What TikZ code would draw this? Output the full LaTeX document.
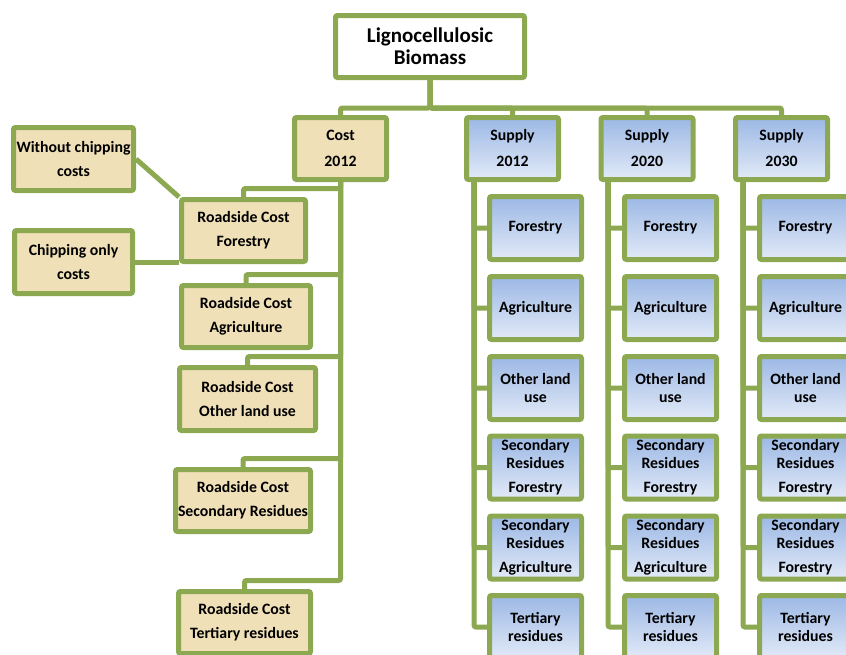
\documentclass[tikz,border=0pt]{standalone}
\usepackage{fontspec}
\setmainfont{Carlito}
\usetikzlibrary{backgrounds}
\definecolor{grn}{RGB}{140,168,80}
\definecolor{papyrus}{RGB}{240,224,184}
\definecolor{btop}{RGB}{156,184,229}
\definecolor{bbot}{RGB}{226,234,247}
\tikzset{
 box/.style={draw=grn, line width=5pt, rounded corners=2pt, inner sep=0pt, align=center, text=black,
   font=\bfseries\fontsize{15.8}{24}\selectfont},
 costbox/.style={box, fill=papyrus},
 supbox/.style={box, top color=btop, bottom color=bbot, font=\bfseries\fontsize{15.8}{17.5}\selectfont,
   minimum width=92pt, minimum height=63pt},
 hdr/.style={font=\bfseries\fontsize{15.8}{24}\selectfont, minimum height=62pt},
 conn/.style={draw=grn, line width=5pt, rounded corners=2pt},
}
\begin{document}
\begin{tikzpicture}[x=1pt,y=-1pt]
\useasboundingbox (0,0) rectangle (846,654);
% root
\node[box, fill=white, minimum width=189pt, minimum height=62pt,
  font=\bfseries\fontsize{21}{22}\selectfont] (root) at (430,46.5) {Lignocellulosic\\Biomass};
% headers
\node[costbox, minimum width=92pt, minimum height=62pt] (cost) at (340.5,148.5) {Cost\\[2pt]2012};
\node[supbox, hdr] (s12) at (512.5,148.5) {Supply\\[2pt]2012};
\node[supbox, hdr] (s20) at (647,148.5) {Supply\\[2pt]2020};
\node[supbox, hdr] (s30) at (781.5,148.5) {Supply\\[2pt]2030};
% cost column
\node[costbox, minimum width=124pt, minimum height=62pt] (rf) at (243.5,230.5) {Roadside Cost\\Forestry};
\node[costbox, minimum width=129pt, minimum height=62pt] (ra) at (246,316.5) {Roadside Cost\\Agriculture};
\node[costbox, minimum width=136pt, minimum height=63pt] (ro) at (247.5,399) {Roadside Cost\\Other land use};
\node[costbox, minimum width=135pt, minimum height=62pt] (rs) at (243,500.5) {Roadside Cost\\Secondary Residues};
\node[costbox, minimum width=132pt, minimum height=62pt] (rt) at (244.5,622.5) {Roadside Cost\\Tertiary residues};
% left boxes
\node[costbox, minimum width=120pt, minimum height=63pt] (wc) at (73.5,159) {Without chipping\\costs};
\node[costbox, minimum width=118pt, minimum height=63pt] (co) at (73.5,262) {Chipping only\\costs};
% supply columns
\foreach \c/\x in {12/535.5, 20/670.5, 30/805.5} {
  \node[supbox] (f\c) at (\x,228) {Forestry};
  \node[supbox] (a\c) at (\x,308) {Agriculture};
  \node[supbox] (o\c) at (\x,388) {Other land\\use};
  \node[supbox] (sf\c) at (\x,467.5) {Secondary\\Residues\\[7pt]Forestry};
  \node[supbox] (t\c) at (\x,627) {Tertiary\\residues};
}
\node[supbox] (sa12) at (535.5,547.5) {Secondary\\Residues\\[7pt]Agriculture};
\node[supbox] (sa20) at (670.5,547.5) {Secondary\\Residues\\[7pt]Agriculture};
\node[supbox] (sa30) at (805.5,547.5) {Secondary\\Residues\\[7pt]Forestry};
% connectors
\begin{pgfonlayer}{background}
\coordinate (bar) at (0,108);
\foreach \n in {cost,s12,s20,s30}
  \draw[conn] (\n.north) -- (\n.north |- bar) -| (root.south);
\foreach \n in {rf,ra,ro,rs,rt}
  \draw[conn] (\n.north) -- ++(0,-8.5) -| (cost.south);
\coordinate (v12) at (474,180);
\coordinate (v20) at (608,180);
\coordinate (v30) at (743,180);
\foreach \c in {12,20,30} {
  \foreach \n in {f,a,o,sf,sa,t}
    \draw[conn] (\n\c.west) -| (v\c);
}
\draw[conn] (wc.east) -- (rf.north west);
\draw[conn] (co.east) -- (co.east -| rf.west);
\end{pgfonlayer}
\end{tikzpicture}
\end{document}
